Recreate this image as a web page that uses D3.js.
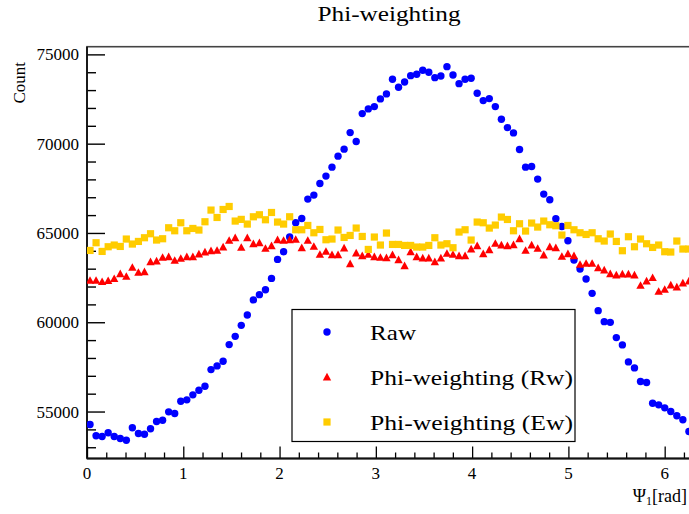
<!DOCTYPE html>
<html>
<head>
<meta charset="utf-8">
<script src="https://cdn.jsdelivr.net/npm/d3@7/dist/d3.min.js"></script>
<style>
  html, body { margin: 0; padding: 0; background: #fff; }
  #chart text { font-family: "Liberation Serif", "Times New Roman", "DejaVu Serif", serif !important; fill: #000; }
</style>
</head>
<body>
<svg id="chart" width="689" height="514" font-family="Liberation Serif, DejaVu Serif, serif"></svg>
<script>
// Psi_1 distribution: 100 bins over [0, 2*pi]
const nBins = 100;
const xMax = 2 * Math.PI;

const rawCounts = [
  54273, 53641, 53602, 53809, 53602, 53490, 53395, 54088, 53770, 53730,
  54032, 54441, 54513, 54983, 54888, 55576, 55654, 55934, 56191, 56415,
  57349, 57556, 57813, 58747, 59211, 59827, 60408, 61250, 61544, 61823,
  62456, 63518, 63949, 64771, 65571, 65811, 66896, 67120, 67769, 68183,
  68686, 69301, 69693, 70621, 70118, 71684, 71947, 72075, 72506, 72786,
  73608, 73160, 73457, 73809, 73887, 74111, 73999, 73697, 73792, 74313,
  73848, 73362, 73608, 73664, 72825, 72411, 72523, 72075, 71371, 70901,
  70604, 69670, 68686, 68719, 68015, 67176, 66857, 65794, 65364, 64564,
  63485, 62981, 62422, 61617, 60650, 60034, 59995, 59139, 58730, 57780,
  57444, 56678, 56622, 55464, 55375, 55207, 55000, 54760, 54536, 53881
];

const rwCounts = [
  62344, 62344, 62271, 62327, 62439, 62718, 62567, 63071, 62791, 62830,
  63390, 63429, 63630, 63669, 63462, 63574, 63669, 63669, 63820, 63932,
  64005, 64021, 64212, 64581, 64732, 64190, 64732, 64396, 64452, 64133,
  64284, 64620, 64581, 64620, 64637, 64173, 64581, 64245, 63798, 63966,
  63781, 63781, 64156, 63278, 63876, 63725, 63798, 63669, 63630, 63613,
  63781, 63501, 63166, 63949, 63669, 63596, 63596, 63390, 63596, 63854,
  63800, 63725, 63725, 64100, 64284, 63837, 64061, 64413, 64323, 64284,
  64340, 64676, 64021, 64323, 64133, 63764, 64228, 64173, 63686, 63837,
  63725, 63238, 63294, 63294, 63054, 62925, 62718, 62646, 62702, 62702,
  62646, 62064, 62310, 62495, 61728, 61840, 62086, 61974, 62198, 62310
];

const ewCounts = [
  64021, 64452, 63966, 64228, 64323, 64245, 64659, 64379, 64525, 64732,
  64956, 64603, 64676, 65291, 65123, 65571, 65123, 65252, 65163, 65627,
  66281, 65867, 66315, 66483, 65666, 65760, 65498, 65906, 66018, 65739,
  66147, 65610, 65498, 65906, 65179, 65179, 65420, 65011, 65196, 64620,
  64659, 65163, 64749, 64861, 65274, 64805, 64077, 64771, 64323, 64995,
  64357, 64357, 64301, 64301, 64212, 64212, 64301, 64732, 64323, 64396,
  64173, 65051, 65179, 64603, 65610, 65571, 65274, 65442, 65889, 65755,
  65123, 65515, 65107, 65554, 65330, 65666, 65459, 65403, 64883, 65420,
  65179, 65011, 64916, 65011, 64676, 64547, 64939, 64525, 64005, 64788,
  64228, 64659, 64396, 64189, 64323, 63949, 63932, 64547, 64100, 64100
];

const yTickValues = [55000, 60000, 65000, 70000, 75000];
const xTickValues = [0, 1, 2, 3, 4, 5, 6];
const seriesNames = ["Raw", "Phi-weighting (Rw)", "Phi-weighting (Ew)"];
const titleText = "Phi-weighting";

const svg = d3.select("#chart");
const serif = "Liberation Serif, DejaVu Serif, serif";

// frame geometry
const frameLeft = 87, frameTop = 46.7, frameBottom = 458.5;
const pxPerRad = 96.28;
const frameRight = frameLeft + xMax * pxPerRad;

const x = d3.scaleLinear().domain([0, xMax]).range([frameLeft, frameRight]);
const y = d3.scaleLinear().domain([52370, 75430]).range([frameBottom, frameTop]);

const binCenter = i => (i + 0.5) * xMax / nBins;

// frame box
svg.append("rect")
  .attr("x", frameLeft).attr("y", frameTop)
  .attr("width", frameRight - frameLeft).attr("height", frameBottom - frameTop)
  .attr("fill", "none").attr("stroke", "#444").attr("stroke-width", 1.6);

// y axis: major + minor ticks
const yAxis = d3.axisRight(y).tickValues(yTickValues).tickSize(18).tickFormat("");
const yMinor = d3.axisRight(y).tickValues(d3.range(53000, 75001, 1000).filter(v => v % 5000 !== 0))
  .tickSize(9).tickFormat("");
[yAxis, yMinor].forEach(ax => {
  const g = svg.append("g").attr("transform", `translate(${frameLeft},0)`).call(ax);
  g.select(".domain").remove();
  g.selectAll("line").attr("stroke", "#000").attr("stroke-width", 1.4);
});
svg.append("line").attr("x1", frameLeft).attr("x2", frameLeft).attr("y1", frameTop).attr("y2", frameBottom)
  .attr("stroke", "#111").attr("stroke-width", 1.8);

svg.append("g").selectAll("text").data(yTickValues).join("text")
  .attr("x", 79).attr("y", d => y(d) + 6)
  .attr("text-anchor", "end").attr("font-size", 17).attr("font-family", serif)
  .text(d => d);

// x axis: major + minor ticks
const xAxis = d3.axisTop(x).tickValues(xTickValues).tickSize(12).tickFormat("");
const xMinor = d3.axisTop(x).tickValues(d3.range(0.2, 6.3, 0.2).filter(v => Math.abs(v - Math.round(v)) > 1e-6))
  .tickSize(6).tickFormat("");
[xAxis, xMinor].forEach(ax => {
  const g = svg.append("g").attr("transform", `translate(0,${frameBottom})`).call(ax);
  g.select(".domain").remove();
  g.selectAll("line").attr("stroke", "#000").attr("stroke-width", 1.3);
});
svg.append("line").attr("x1", frameLeft).attr("x2", frameRight).attr("y1", frameBottom).attr("y2", frameBottom)
  .attr("stroke", "#111").attr("stroke-width", 1.8);

svg.append("g").selectAll("text").data(xTickValues).join("text")
  .attr("x", d => x(d)).attr("y", 479)
  .attr("text-anchor", "middle").attr("font-size", 17).attr("font-family", serif)
  .text(d => d);

// axis titles
svg.append("text")
  .attr("transform", "translate(25,62) rotate(-90)")
  .attr("text-anchor", "end").attr("font-size", 17).attr("font-family", serif)
  .text("Count");

const xt = svg.append("text")
  .attr("x", 687).attr("y", 502).attr("text-anchor", "end").attr("font-size", 18)
  .attr("font-family", serif);
xt.append("tspan").text("Ψ");
xt.append("tspan").attr("font-size", 12).attr("dy", 3).text("1");
xt.append("tspan").attr("dy", -3).text("[rad]");

// title
svg.append("text")
  .attr("x", 389).attr("y", 21).attr("text-anchor", "middle")
  .attr("font-size", 21).attr("font-family", serif)
  .attr("textLength", 143).attr("lengthAdjust", "spacingAndGlyphs")
  .text(titleText);

// marker shapes
const markerColors = ["#0000ff", "#ff0000", "#ffcc00"];
const triPath = s => `M0,${-s * 0.55}L${s * 0.55},${s * 0.45}L${-s * 0.55},${s * 0.45}Z`;

function drawMarker(g, kind, cx, cy) {
  if (kind === 0) {
    g.append("circle").attr("cx", cx).attr("cy", cy).attr("r", 3.7).attr("fill", markerColors[0]);
  } else if (kind === 1) {
    g.append("path").attr("d", triPath(7.6)).attr("transform", `translate(${cx},${cy})`)
      .attr("fill", markerColors[1]);
  } else {
    g.append("rect").attr("x", cx - 3.6).attr("y", cy - 3.6).attr("width", 7.2).attr("height", 7.2)
      .attr("fill", markerColors[2]);
  }
}

svg.append("clipPath").attr("id", "plotclip").append("rect")
  .attr("x", frameLeft).attr("y", frameTop).attr("width", frameRight - frameLeft + 6).attr("height", frameBottom - frameTop);

const plot = svg.append("g").attr("clip-path", "url(#plotclip)");
const allSeries = [rawCounts, rwCounts, ewCounts];
[0, 1, 2].forEach(k => {
  const g = plot.append("g");
  allSeries[k].forEach((v, i) => drawMarker(g, k, x(binCenter(i)), y(v)));
});

// legend
const lg = svg.append("g");
lg.append("rect").attr("x", 292).attr("y", 309.5).attr("width", 283).attr("height", 132)
  .attr("fill", "#fff").attr("stroke", "#000").attr("stroke-width", 1.2);
const legendRows = [332, 377, 422];
const legendWidths = [46, 203, 203];
seriesNames.forEach((name, k) => {
  drawMarker(lg, k, 327, legendRows[k]);
  lg.append("text").attr("x", 370).attr("y", legendRows[k] + 8)
    .attr("font-size", 22).attr("font-family", serif)
    .attr("textLength", legendWidths[k]).attr("lengthAdjust", "spacingAndGlyphs")
    .text(name);
});
</script>
</body>
</html>
